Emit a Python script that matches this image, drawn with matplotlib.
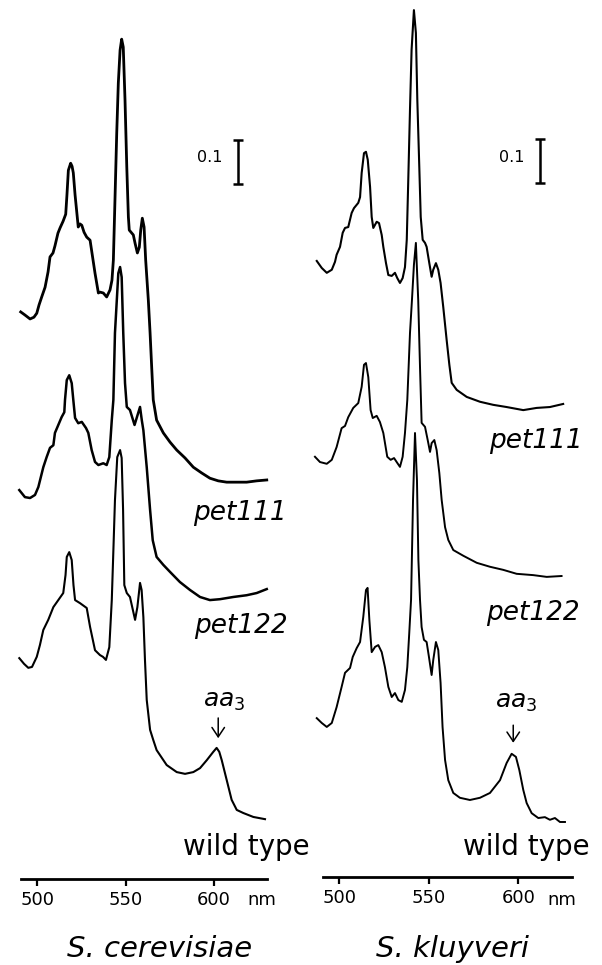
"""
Reduced-minus-oxidized cytochrome spectra, S. cerevisiae vs S. kluyveri
"""

import numpy as np
import matplotlib
matplotlib.use("Agg")
import matplotlib.pyplot as plt

# ---- data (wavelength in nm, absorbance incl. stacking offset) ----

# S. cerevisiae
cer_pet111_nm = [490.6, 493.0, 495.9, 498.1, 499.7, 501.0, 502.5, 504.4, 506.1, 507.2, 508.9, 510.0,
                 511.7, 512.9, 514.6, 516.1, 516.8, 517.6, 518.9, 519.7, 520.4, 521.4, 523.2, 524.2,
                 525.2, 526.5, 528.0, 529.9, 532.7, 534.6, 535.5, 537.4, 539.3, 541.2, 542.3, 543.1,
                 544.0, 545.0, 545.9, 546.9, 547.8, 548.7, 549.7, 550.7, 551.6, 552.1, 554.4, 555.4,
                 556.7, 557.8, 558.6, 559.5, 560.5, 561.4, 562.9, 563.9, 564.8, 565.7, 567.6, 571.4,
                 575.2, 579.0, 583.7, 588.4, 593.1, 597.8, 602.5, 607.3, 613.0, 618.6, 624.3, 630.0]
cer_pet111_abs = [1.289, 1.282, 1.273, 1.277, 1.286, 1.305, 1.323, 1.345, 1.380, 1.414, 1.423, 1.439,
                  1.468, 1.480, 1.495, 1.511, 1.555, 1.611, 1.627, 1.620, 1.605, 1.555, 1.482, 1.489,
                  1.486, 1.470, 1.459, 1.452, 1.377, 1.332, 1.334, 1.332, 1.323, 1.339, 1.361, 1.407,
                  1.543, 1.695, 1.809, 1.884, 1.909, 1.891, 1.770, 1.618, 1.505, 1.475, 1.464, 1.445,
                  1.423, 1.436, 1.475, 1.502, 1.482, 1.407, 1.316, 1.241, 1.164, 1.089, 1.043, 1.014,
                  0.993, 0.975, 0.957, 0.936, 0.923, 0.911, 0.905, 0.902, 0.902, 0.902, 0.905, 0.907]

cer_pet122_nm = [489.8, 493.0, 495.9, 498.7, 500.6, 503.4, 505.3, 507.2, 509.1, 510.0, 511.9, 513.8,
                 515.3, 515.7, 516.7, 518.1, 519.5, 520.4, 521.4, 523.2, 525.2, 527.6, 528.9, 530.8,
                 532.7, 534.6, 537.4, 539.3, 540.8, 542.2, 543.1, 544.0, 545.9, 546.9, 547.8, 548.7,
                 549.7, 550.7, 552.5, 555.1, 558.2, 559.2, 560.1, 562.0, 563.9, 565.4, 567.6, 571.4,
                 575.2, 580.8, 586.5, 592.2, 597.8, 603.5, 611.0, 618.6, 624.3, 630.0]
cer_pet122_abs = [0.884, 0.868, 0.866, 0.873, 0.891, 0.936, 0.959, 0.980, 0.986, 1.014, 1.032, 1.050,
                  1.061, 1.089, 1.134, 1.145, 1.127, 1.089, 1.048, 1.036, 1.039, 1.025, 1.014, 0.975,
                  0.948, 0.941, 0.945, 0.941, 0.959, 1.043, 1.089, 1.241, 1.377, 1.391, 1.368, 1.241,
                  1.127, 1.073, 1.066, 1.032, 1.073, 1.043, 1.020, 0.936, 0.839, 0.770, 0.732, 0.714,
                  0.698, 0.675, 0.657, 0.641, 0.634, 0.636, 0.641, 0.645, 0.650, 0.659]

cer_wt_nm = [489.8, 492.5, 494.9, 497.0, 499.7, 501.5, 503.4, 506.2, 509.1, 511.9, 514.7, 516.0,
             516.7, 518.1, 519.5, 520.5, 521.4, 524.2, 528.0, 529.9, 532.7, 535.5, 537.2, 538.9,
             540.8, 542.2, 543.2, 544.0, 545.3, 546.9, 547.8, 548.6, 549.3, 550.7, 552.5, 555.4,
             556.7, 558.2, 559.1, 560.1, 561.0, 562.0, 563.9, 565.7, 567.6, 573.3, 579.0, 583.7,
             588.4, 592.2, 596.0, 599.7, 601.6, 603.1, 604.5, 607.3, 610.1, 613.0, 616.7, 622.4, 629.0]
cer_wt_abs = [0.502, 0.489, 0.480, 0.482, 0.505, 0.532, 0.566, 0.589, 0.618, 0.634, 0.650, 0.691,
              0.732, 0.743, 0.725, 0.668, 0.634, 0.627, 0.616, 0.573, 0.520, 0.509, 0.505, 0.498,
              0.527, 0.634, 0.759, 0.861, 0.959, 0.975, 0.957, 0.839, 0.668, 0.650, 0.641, 0.589,
              0.618, 0.673, 0.657, 0.595, 0.498, 0.407, 0.339, 0.316, 0.293, 0.259, 0.243, 0.239,
              0.243, 0.252, 0.270, 0.289, 0.298, 0.289, 0.270, 0.225, 0.180, 0.157, 0.150, 0.141, 0.136]

# S. kluyveri
klu_pet111_nm = [487.4, 490.2, 493.0, 495.8, 497.6, 498.5, 500.4, 501.9, 503.2, 505.0, 506.9, 508.2,
                 510.6, 511.6, 512.5, 513.8, 514.9, 515.9, 517.2, 518.1, 519.0, 520.9, 522.2, 523.7,
                 524.6, 526.1, 527.4, 529.3, 531.1, 532.4, 533.9, 535.4, 536.7, 537.7, 538.5, 539.5,
                 540.4, 541.7, 542.8, 543.6, 544.7, 545.5, 546.6, 547.9, 548.8, 550.3, 551.6, 552.5,
                 554.0, 555.3, 556.6, 558.1, 560.0, 561.5, 562.8, 565.6, 571.2, 578.6, 586.0, 593.5,
                 602.8, 610.3, 617.7, 625.1]
klu_pet111_abs = [1.400, 1.384, 1.373, 1.380, 1.398, 1.414, 1.432, 1.464, 1.475, 1.477, 1.509, 1.520,
                  1.532, 1.545, 1.600, 1.645, 1.648, 1.630, 1.568, 1.500, 1.475, 1.489, 1.486, 1.459,
                  1.432, 1.395, 1.368, 1.366, 1.373, 1.361, 1.350, 1.361, 1.386, 1.448, 1.577, 1.743,
                  1.880, 1.970, 1.918, 1.766, 1.614, 1.500, 1.448, 1.441, 1.432, 1.395, 1.364, 1.380,
                  1.395, 1.380, 1.350, 1.295, 1.220, 1.164, 1.123, 1.107, 1.091, 1.080, 1.073, 1.068,
                  1.061, 1.066, 1.068, 1.075]

klu_pet122_nm = [486.4, 489.2, 493.0, 495.8, 498.5, 501.3, 503.2, 505.0, 507.8, 510.6, 512.5, 513.8,
                 514.9, 516.2, 517.5, 518.7, 520.9, 522.7, 524.6, 526.8, 528.7, 530.6, 532.4, 533.9,
                 535.4, 536.7, 538.0, 539.5, 540.6, 541.7, 542.8, 544.1, 545.1, 546.0, 547.9, 549.4,
                 550.7, 551.6, 553.1, 554.4, 555.9, 557.2, 559.1, 560.9, 563.7, 569.3, 576.8, 584.2,
                 591.6, 599.1, 608.4, 615.9, 624.2]
klu_pet122_abs = [0.955, 0.943, 0.939, 0.948, 0.977, 1.020, 1.025, 1.045, 1.066, 1.077, 1.114, 1.164,
                  1.168, 1.136, 1.061, 1.043, 1.048, 1.034, 1.009, 0.955, 0.948, 0.952, 0.941, 0.932,
                  0.955, 1.009, 1.084, 1.236, 1.311, 1.391, 1.441, 1.311, 1.159, 1.032, 1.023, 0.993,
                  0.966, 0.986, 0.993, 0.970, 0.918, 0.857, 0.795, 0.766, 0.743, 0.730, 0.714, 0.705,
                  0.698, 0.689, 0.686, 0.682, 0.684]

klu_wt_nm = [487.4, 490.2, 493.0, 495.8, 498.5, 501.3, 503.2, 506.0, 507.5, 509.7, 511.6, 513.4,
             514.9, 515.8, 516.8, 518.1, 520.0, 521.8, 523.7, 525.5, 527.4, 529.3, 531.1, 533.0,
             534.9, 536.7, 538.0, 539.1, 540.1, 541.2, 542.3, 543.4, 544.2, 545.1, 546.0, 547.3,
             548.8, 550.1, 551.6, 552.5, 554.0, 555.3, 556.6, 557.7, 559.1, 560.9, 563.7, 567.4,
             573.0, 578.6, 584.2, 589.8, 593.5, 596.3, 598.7, 600.6, 602.8, 604.7, 607.5, 611.2,
             614.9, 617.7, 620.5, 623.3, 626.1]
klu_wt_abs = [0.361, 0.350, 0.341, 0.350, 0.386, 0.432, 0.464, 0.475, 0.500, 0.520, 0.534, 0.591,
              0.652, 0.657, 0.584, 0.511, 0.523, 0.527, 0.511, 0.477, 0.432, 0.409, 0.418, 0.402,
              0.398, 0.425, 0.477, 0.555, 0.630, 0.857, 1.009, 0.902, 0.720, 0.630, 0.568, 0.539,
              0.534, 0.500, 0.459, 0.493, 0.534, 0.516, 0.441, 0.341, 0.266, 0.220, 0.191, 0.180,
              0.175, 0.180, 0.191, 0.220, 0.259, 0.280, 0.273, 0.243, 0.198, 0.168, 0.145, 0.134,
              0.136, 0.130, 0.134, 0.125, 0.125]

tick_nm = [500, 550, 600]
trace_labels = ["pet111", "pet122", "wild type"]
species = ["S. cerevisiae", "S. kluyveri"]
scale_bar = 0.1


def draw_panel(ax, traces, lws, cfg):
    for (x, y), lw in zip(traces, lws):
        ax.plot(np.array(x), np.array(y), color="black", lw=lw, solid_joinstyle="round")

    ax.set_xlim(cfg["xlim"])
    ax.set_ylim(cfg["ylim"])
    ax.patch.set_visible(False)

    for side in ["top", "left", "right"]:
        ax.spines[side].set_visible(False)
    ax.spines["bottom"].set_position(("data", 0))
    ax.spines["bottom"].set_bounds(*cfg["axis_span"])
    ax.spines["bottom"].set_linewidth(2)
    ax.set_yticks([])
    ax.set_xticks(tick_nm)
    ax.set_xticklabels([str(t) for t in tick_nm])
    ax.tick_params(axis="x", direction="out", length=5, width=1.6, pad=4, labelsize=13)
    ax.text(cfg["nm_pos"][0], cfg["nm_pos"][1], "nm", fontsize=13, ha="center", va="baseline")

    # trace labels
    for label, (lx, ly) in zip(trace_labels, cfg["label_pos"]):
        style = "normal" if label == "wild type" else "italic"
        size = 20 if label == "wild type" else 19
        ax.text(lx, ly, label, fontsize=size, style=style, ha="right", va="baseline")

    # aa3 marker
    ax.text(cfg["aa3_text"][0], cfg["aa3_text"][1], r"$aa_3$", fontsize=18,
            ha="center", va="baseline")
    ax.annotate("", xy=(cfg["aa3_arrow"][0], cfg["aa3_arrow"][2]),
                xytext=(cfg["aa3_arrow"][0], cfg["aa3_arrow"][1]),
                arrowprops=dict(arrowstyle="->,head_length=0.45,head_width=0.3",
                                lw=1.1, color="black", shrinkA=0, shrinkB=0,
                                mutation_scale=15))

    # 0.1 absorbance scale bar
    bx, by = cfg["bar_pos"]
    ax.errorbar([bx], [by], yerr=scale_bar / 2, fmt="none", ecolor="black",
                elinewidth=1.8, capsize=3.5, capthick=1.8)
    ax.text(cfg["bar_label"][0], cfg["bar_label"][1], "0.1", fontsize=11.5,
            ha="right", va="center")


def main():
    fig = plt.figure(figsize=(6.02, 9.65), dpi=100)
    ax_l = fig.add_axes([0, 0, 0.5, 1])
    ax_r = fig.add_axes([0.5, 0, 0.5, 1])

    left_cfg = {
        "xlim": (478.87, 649.4), "ylim": (-0.1955, 1.998), "axis_span": (490.6, 630.0),
        "nm_pos": (627.0, -0.059),
        "label_pos": [(641.5, 0.816), (642.0, 0.559), (654.4, 0.0545)],
        "aa3_text": (605.8, 0.391), "aa3_arrow": (602.5, 0.366, 0.320),
        "bar_pos": (613.7, 1.63), "bar_label": (605.2, 1.641),
    }
    right_cfg = {
        "xlim": (478.6, 646.8), "ylim": (-0.2, 1.993), "axis_span": (490.7, 629.8),
        "nm_pos": (624.1, -0.064),
        "label_pos": [(636.1, 0.975), (634.5, 0.584), (640.1, 0.05)],
        "aa3_text": (598.7, 0.384), "aa3_arrow": (597.2, 0.345, 0.305),
        "bar_pos": (612.1, 1.626), "bar_label": (603.7, 1.636),
    }

    draw_panel(ax_l,
               [(cer_pet111_nm, cer_pet111_abs), (cer_pet122_nm, cer_pet122_abs),
                (cer_wt_nm, cer_wt_abs)],
               [2.0, 1.8, 1.5], left_cfg)
    draw_panel(ax_r,
               [(klu_pet111_nm, klu_pet111_abs), (klu_pet122_nm, klu_pet122_abs),
                (klu_wt_nm, klu_wt_abs)],
               [1.5, 1.4, 1.4], right_cfg)

    fig.text(160 / 602, 1 - 957 / 965, species[0], fontsize=21, style="italic",
             ha="center", va="baseline")
    fig.text(452.5 / 602, 1 - 957 / 965, species[1], fontsize=21, style="italic",
             ha="center", va="baseline")

    fig.savefig("out.png", dpi=100, facecolor="white")
    plt.close(fig)


if __name__ == "__main__":
    main()
